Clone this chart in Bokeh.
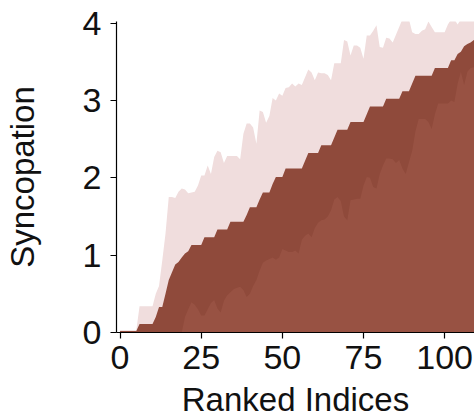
from bokeh.plotting import figure
from bokeh.models import Range1d, FixedTicker
from bokeh.embed import file_html
from bokeh.resources import INLINE

ranked_index = list(range(0, 111))

upper_band = [
    0.03, 0.03, 0.03, 0.03, 0.03, 0.03, 0.34, 0.34, 0.34, 0.34,
    0.34, 0.50, 0.60, 0.93, 1.28, 1.75, 1.75, 1.74, 1.82, 1.86,
    1.85, 1.80, 1.81, 1.82, 1.90, 2.03, 2.03, 2.16, 2.05, 2.27,
    2.35, 2.33, 2.19, 2.28, 2.28, 2.28, 2.28, 2.24, 2.57, 2.70,
    2.70, 2.65, 2.44, 2.87, 2.85, 2.71, 2.80, 3.03, 3.00, 3.09,
    3.06, 3.16, 3.17, 3.22, 3.18, 3.22, 3.20, 3.30, 3.40, 3.36,
    3.26, 3.36, 3.35, 3.35, 3.33, 3.26, 3.48, 3.48, 3.48, 3.78,
    3.76, 3.58, 3.71, 3.71, 3.68, 3.54, 3.84, 3.84, 3.90, 3.97,
    3.69, 3.68, 3.81, 3.80, 3.75, 3.85, 3.95, 4.05, 4.05, 4.05,
    3.88, 3.86, 3.86, 3.90, 3.92, 4.02, 3.95, 3.88, 3.88, 3.88,
    3.88, 3.98, 4.05, 4.05, 3.98, 4.05, 4.05, 4.05, 4.05, 4.05,
    4.05,
]

middle_band = [
    0.02, 0.02, 0.02, 0.02, 0.02, 0.02, 0.11, 0.11, 0.11, 0.11,
    0.11, 0.20, 0.33, 0.33, 0.50, 0.68, 0.78, 0.88, 0.91, 0.97,
    1.02, 1.05, 1.13, 1.13, 1.13, 1.13, 1.23, 1.23, 1.23, 1.23,
    1.33, 1.33, 1.33, 1.33, 1.43, 1.43, 1.43, 1.43, 1.43, 1.52,
    1.62, 1.62, 1.62, 1.72, 1.81, 1.81, 1.81, 1.92, 2.01, 2.01,
    2.01, 2.12, 2.12, 2.12, 2.12, 2.12, 2.12, 2.22, 2.32, 2.32,
    2.32, 2.32, 2.42, 2.42, 2.42, 2.42, 2.52, 2.62, 2.62, 2.62,
    2.62, 2.72, 2.72, 2.72, 2.72, 2.72, 2.82, 2.92, 2.92, 2.92,
    2.92, 2.92, 3.02, 3.02, 3.02, 3.02, 3.02, 3.12, 3.12, 3.12,
    3.22, 3.32, 3.32, 3.32, 3.32, 3.32, 3.32, 3.42, 3.42, 3.42,
    3.42, 3.42, 3.52, 3.52, 3.60, 3.63, 3.70, 3.73, 3.75, 3.78,
    3.82,
]

lower_band = [
    0.00, 0.00, 0.00, 0.00, 0.00, 0.00, 0.00, 0.00, 0.00, 0.00,
    0.00, 0.00, 0.00, 0.00, 0.00, 0.00, 0.00, 0.00, 0.00, 0.00,
    0.20, 0.30, 0.39, 0.36, 0.30, 0.22, 0.22, 0.30, 0.38, 0.42,
    0.31, 0.26, 0.41, 0.48, 0.52, 0.56, 0.58, 0.59, 0.55, 0.46,
    0.50, 0.60, 0.68, 0.80, 0.90, 0.93, 0.95, 0.97, 0.94, 0.97,
    1.08, 1.06, 1.04, 1.04, 1.06, 1.02, 1.20, 1.25, 1.28, 1.23,
    1.35, 1.42, 1.45, 1.46, 1.50, 1.58, 1.72, 1.75, 1.70, 1.50,
    1.45, 1.71, 1.72, 1.73, 1.73, 1.90, 2.01, 2.00, 1.88, 1.86,
    2.05, 2.16, 2.25, 2.25, 2.24, 2.19, 2.23, 2.12, 2.05, 2.20,
    2.35, 2.60, 2.76, 2.76, 2.76, 2.72, 2.63, 2.82, 2.96, 2.96,
    2.96, 2.96, 3.00, 2.98, 3.22, 3.37, 3.20, 3.37, 3.42, 3.43,
    3.45,
]

x_ticks = [0, 25, 50, 75, 100]
y_ticks = [0, 1, 2, 3, 4]

FONT = "Liberation Sans"

p = figure(
    frame_width=358, frame_height=311,
    output_backend="svg", toolbar_location=None,
    x_range=Range1d(-1.1, 109.2), y_range=Range1d(0, 4.02),
    min_border_left=116, min_border_right=0, min_border_top=21, min_border_bottom=60,
)

p.varea(x=ranked_index, y1=0, y2=upper_band, fill_color="#f0dddd")
p.varea(x=ranked_index, y1=0, y2=middle_band, fill_color="#8f4a3b")
p.varea(x=ranked_index, y1=0, y2=lower_band, fill_color="#985243")

p.outline_line_color = None
p.xgrid.grid_line_color = None
p.ygrid.grid_line_color = None
p.background_fill_color = "white"
p.border_fill_color = "white"

for ax in (p.xaxis[0], p.yaxis[0]):
    ax.axis_line_color = "black"
    ax.axis_line_width = 1.2
    ax.major_tick_line_color = "black"
    ax.major_tick_line_width = 1.2
    ax.major_tick_in = 0
    ax.major_tick_out = 6
    ax.minor_tick_line_color = None
    ax.major_label_text_font = FONT
    ax.major_label_text_font_size = "34px"
    ax.major_label_text_color = "#111111"
    ax.axis_label_text_font = FONT
    ax.axis_label_text_font_size = "33px"
    ax.axis_label_text_font_style = "normal"
    ax.axis_label_text_color = "#111111"

p.xaxis[0].ticker = FixedTicker(ticks=x_ticks)
p.yaxis[0].ticker = FixedTicker(ticks=y_ticks)
p.xaxis[0].axis_label = "Ranked Indices"
p.yaxis[0].axis_label = "Syncopation"
p.xaxis[0].major_label_standoff = 7
p.yaxis[0].major_label_standoff = 9
p.xaxis[0].axis_label_standoff = 9
p.yaxis[0].axis_label_standoff = 39

open("out.html", "w").write(file_html(p, INLINE))
